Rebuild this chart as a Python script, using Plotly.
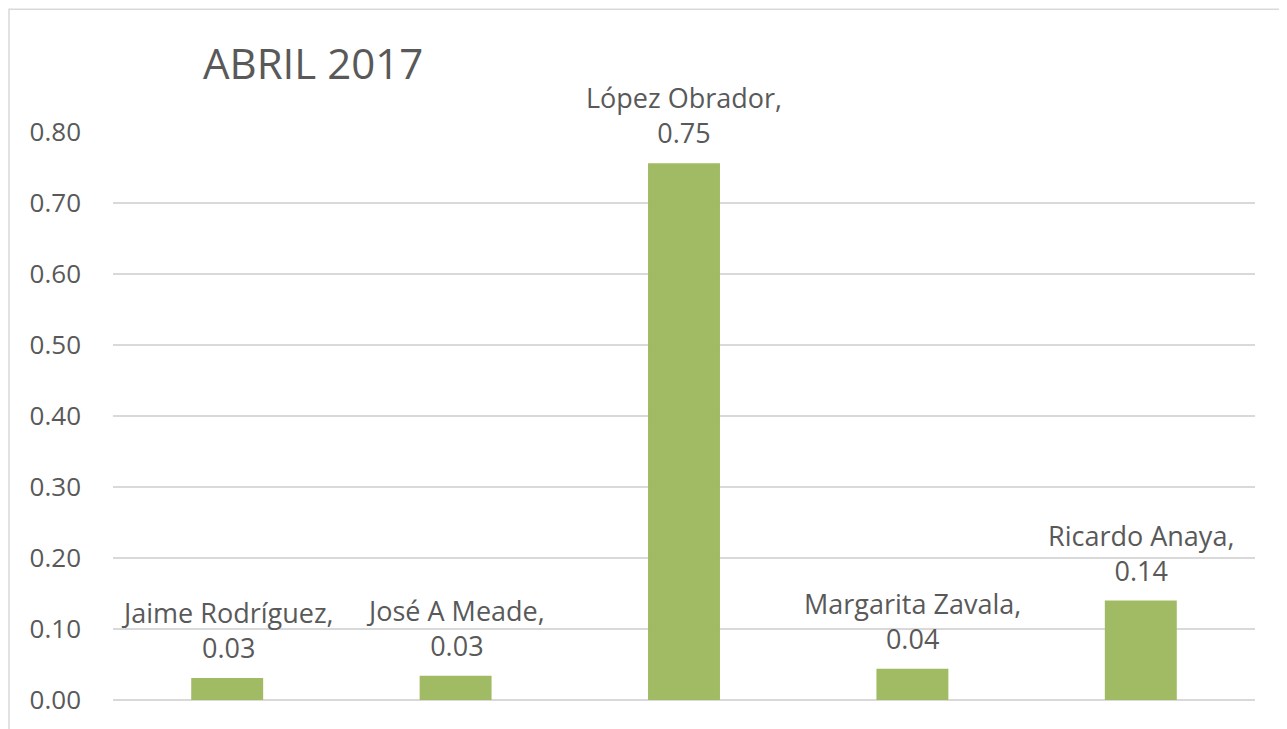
import plotly.graph_objects as go

# Data
candidatos = ['Jaime Rodríguez', 'José A Meade', 'López Obrador', 'Margarita Zavala', 'Ricardo Anaya']
valores = [0.031, 0.034, 0.756, 0.044, 0.140]
etiquetas = ['0.03', '0.03', '0.75', '0.04', '0.14']
ticks = [0.0, 0.1, 0.2, 0.3, 0.4, 0.5, 0.6, 0.7, 0.8]

gray = '#595959'
fam = 'Open Sans, sans-serif'

fig = go.Figure()
fig.add_trace(go.Bar(
    x=candidatos, y=valores,
    marker=dict(color='#A0BB63', line=dict(width=0)),
    width=0.315,
))

# data labels above the bars
for c, v, e in zip(candidatos, valores, etiquetas):
    fig.add_annotation(x=c, y=v, text=f'{c},<br>{e}', showarrow=False,
                       yanchor='bottom', yshift=10,
                       font=dict(size=27, color=gray, family=fam))

# page body has an 8px offset, so the figure is a bit smaller
fig.update_layout(
    width=1279, height=721,
    margin=dict(l=105, r=32, t=124, b=29),
    paper_bgcolor='white', plot_bgcolor='white',
    font=dict(family=fam, color=gray),
    showlegend=False,
    title=dict(text='ABRIL 2017', x=195 / 1279, xanchor='left',
               y=1 - 56 / 721, yanchor='middle',
               font=dict(size=42, color=gray)),
    xaxis=dict(showticklabels=False, showgrid=False, zeroline=False,
               showline=False),
    yaxis=dict(range=[0, 0.8], tickvals=ticks, tickformat='.2f',
               showgrid=True, gridcolor='#d9d9d9', gridwidth=1.5,
               zeroline=True, zerolinecolor='#d9d9d9', zerolinewidth=1.5,
               showline=False, ticklabelstandoff=31,
               tickfont=dict(size=26, color=gray)),
)

# chart border
fig.add_shape(type='rect', xref='paper', yref='paper',
              x0=-104 / 1142, x1=1.2, y0=-0.5, y1=687 / 565,
              line=dict(color='#d9d9d9', width=1.5), layer='below')

fig.write_html("out.html")
